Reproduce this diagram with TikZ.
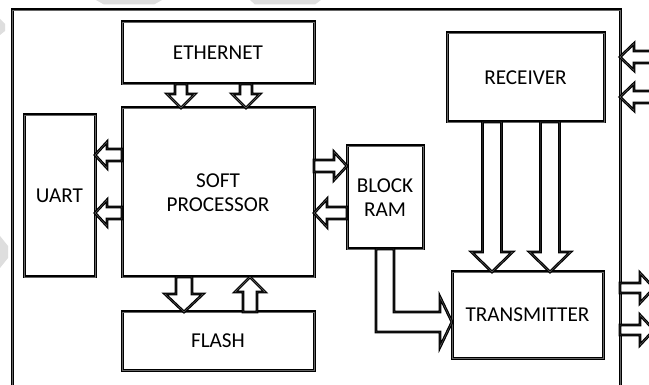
\documentclass[tikz,border=0pt]{standalone}
\usepackage{fontspec}
\setmainfont{Carlito}
\usetikzlibrary{calc}
\newcommand\boxfont{\fontsize{21.2}{24}\selectfont}
\tikzset{
  box/.style={draw=black, line width=3pt, fill=white, inner sep=0pt, outer sep=0pt,
    align=center, font=\boxfont, postaction={draw=black!60, line width=0.4pt}},
  blk/.style={draw=black, line width=2.8pt, fill=white, line join=miter,
    postaction={draw=black!60, line width=0.4pt}},
  wm/.style={fill=black!13, draw=none}
}
\newcommand\arrdown[5]{\draw[blk] let \p1=(#1), \p2=(#2) in
  (\x1-#3pt,\y1) -- (\x1-#3pt,\y2+#5pt) -- (\x1-#4pt,\y2+#5pt) -- (\x1,\y2) --
  (\x1+#4pt,\y2+#5pt) -- (\x1+#3pt,\y2+#5pt) -- (\x1+#3pt,\y1) -- cycle;}
\newcommand\arrup[5]{\draw[blk] let \p1=(#1), \p2=(#2) in
  (\x1-#3pt,\y1) -- (\x1-#3pt,\y2-#5pt) -- (\x1-#4pt,\y2-#5pt) -- (\x1,\y2) --
  (\x1+#4pt,\y2-#5pt) -- (\x1+#3pt,\y2-#5pt) -- (\x1+#3pt,\y1) -- cycle;}
\newcommand\arrleft[5]{\draw[blk] let \p1=(#1), \p2=(#2) in
  (\x1,\y1-#3pt) -- (\x2+#5pt,\y1-#3pt) -- (\x2+#5pt,\y1-#4pt) -- (\x2,\y1) --
  (\x2+#5pt,\y1+#4pt) -- (\x2+#5pt,\y1+#3pt) -- (\x1,\y1+#3pt) -- cycle;}
\newcommand\arrright[5]{\draw[blk] let \p1=(#1), \p2=(#2) in
  (\x1,\y1-#3pt) -- (\x2-#5pt,\y1-#3pt) -- (\x2-#5pt,\y1-#4pt) -- (\x2,\y1) --
  (\x2-#5pt,\y1+#4pt) -- (\x2-#5pt,\y1+#3pt) -- (\x1,\y1+#3pt) -- cycle;}
\begin{document}
\begin{tikzpicture}[x=1pt, y=-1pt]
\useasboundingbox (0,0) rectangle (649,385);
\clip (0,0) rectangle (649,385);
\fill[white] (0,0) rectangle (649,385);
% faint watermark fragments
\path[wm] (96,0) -- (162,0) -- (154,4.5) -- (104,4.5) -- cycle;
\path[wm] (250,0) -- (321,0) -- (315,4.5) -- (255,4.5) -- cycle;
\path[wm] (0,19) -- (5,24) -- (5,31) -- (0,35) -- cycle;
\path[wm] (0,236) -- (8,246) -- (8,258) -- (0,268) -- cycle;
% outer frame
\node[box, fill=none, minimum width=608pt, minimum height=400pt] (frame) at (316,210) {};
% blocks
\node[box, minimum width=192pt, minimum height=62pt] (eth) at (218,53) {ETHERNET};
\node[box, minimum width=192pt, minimum height=169pt] (proc) at (218,192.5) {SOFT\\PROCESSOR};
\node[box, minimum width=71pt, minimum height=162pt] (uart) at (59.5,196) {UART};
\node[box, minimum width=192pt, minimum height=58pt] (flash) at (218,341) {FLASH};
\node[box, minimum width=76pt, minimum height=103pt] (bram) at (385,197.5) {BLOCK\\RAM};
\node[box, minimum width=157pt, minimum height=89pt] (recv) at (525.5,77.5) {RECEIVER};
\node[box, minimum width=151pt, minimum height=86pt] (trans) at (527.5,315) {TRANSMITTER};
% connectors
\arrdown{[xshift=-37pt]eth.south}{proc.north}{6}{14}{14}
\arrdown{[xshift=28pt]eth.south}{proc.north}{6}{14}{14}
\arrleft{[yshift=37.5pt]proc.west}{uart.east}{6}{13}{12}
\arrleft{[yshift=-20.5pt]proc.west}{uart.east}{6}{13}{12}
\arrright{[yshift=26.5pt]proc.east}{bram.west}{6}{14}{13}
\arrleft{[yshift=-15.5pt]bram.west}{proc.east}{6}{14}{13}
\arrdown{[xshift=-34pt]proc.south}{flash.north}{8}{19}{18}
\arrup{[xshift=32pt]flash.north}{proc.south}{7}{15}{15}
\arrdown{[xshift=-33.5pt]recv.south}{trans.north}{9.5}{20.5}{20}
\arrdown{[xshift=24.5pt]recv.south}{trans.north}{9.5}{20.5}{20}
\coordinate (lt) at ([yshift=-7pt]trans.west);
\draw[blk] let \p1=(bram.south), \p2=(lt) in
  (\x1-9pt,\y1) -- (\x1-9pt,\y2-10pt) -- (\x2-12pt,\y2-10pt) -- (\x2-12pt,\y2-25pt) --
  (\x2,\y2) -- (\x2-12pt,\y2+25pt) -- (\x2-12pt,\y2+10pt) -- (\x1+9pt,\y2+10pt) --
  (\x1+9pt,\y1) -- cycle;
\coordinate (in1) at (670,57);
\coordinate (in2) at (670,97);
\arrleft{in1}{frame.east}{6}{13.5}{14}
\arrleft{in2}{frame.east}{6}{13.5}{14}
\coordinate (o1) at (654,288);
\coordinate (o2) at (654,330);
\arrright{frame.east |- o1}{o1}{5}{15}{14}
\arrright{frame.east |- o2}{o2}{5}{15}{14}
\end{tikzpicture}
\end{document}
